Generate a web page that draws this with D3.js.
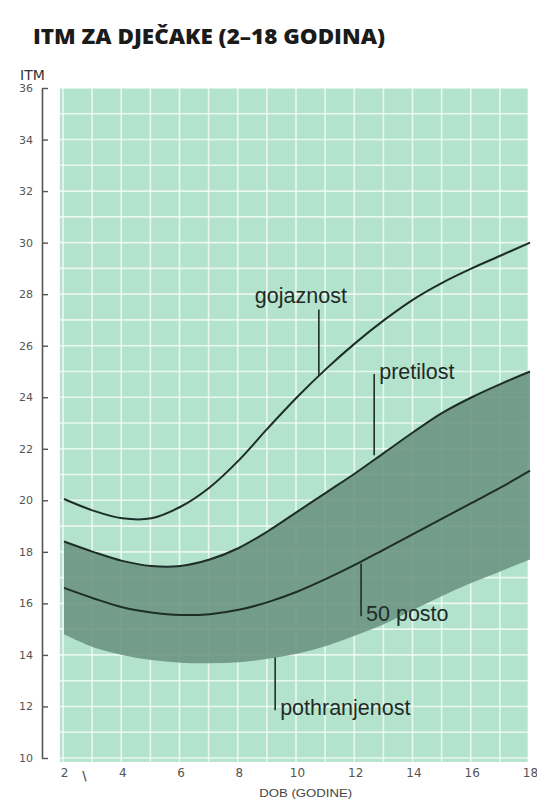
<!DOCTYPE html>
<html>
<head>
<meta charset="utf-8">
<script src="https://cdn.jsdelivr.net/npm/d3@7"></script>
<style>
  html, body { margin: 0; padding: 0; background: #ffffff; }
  svg { display: block; }
</style>
</head>
<body>
<svg id="chart" width="537" height="800"></svg>
<script>
// ---- data ----
const ages = [2, 3, 4, 5, 6, 7, 8, 9, 10, 11, 12, 13, 14, 15, 16, 17, 18];
const gojaznost     = [20.05, 19.6, 19.3, 19.3, 19.75, 20.5, 21.55, 22.8, 24.0, 25.1, 26.1, 27.0, 27.8, 28.45, 29.0, 29.5, 30.0];
const pretilost     = [18.4, 18.0, 17.65, 17.45, 17.45, 17.7, 18.15, 18.8, 19.55, 20.3, 21.05, 21.85, 22.65, 23.4, 24.0, 24.52, 25.0];
const posto50       = [16.6, 16.2, 15.85, 15.65, 15.55, 15.58, 15.75, 16.05, 16.45, 16.95, 17.5, 18.1, 18.7, 19.3, 19.9, 20.5, 21.15];
const pothranjenost = [14.8, 14.3, 14.0, 13.8, 13.7, 13.68, 13.72, 13.85, 14.05, 14.35, 14.75, 15.2, 15.75, 16.3, 16.8, 17.25, 17.7];
const yTicks = [10, 12, 14, 16, 18, 20, 22, 24, 26, 28, 30, 32, 34, 36];
const xTicks = [2, 4, 6, 8, 10, 12, 14, 16, 18];
const title = "ITM ZA DJEČAKE (2–18 GODINA)";
const yTitle = "ITM";
const xTitle = "DOB (GODINE)";
// label anchors: text, age of leader line, value where it meets the curve, value at its free end
const labels = [
  { text: "gojaznost",     age: 10.75, from: 24.85, to: 27.4,  side: "above" },
  { text: "pretilost",     age: 12.65, from: 21.75, to: 24.9,  side: "right" },
  { text: "50 posto",      age: 12.2,  from: 17.55, to: 15.5,  side: "right" },
  { text: "pothranjenost", age: 9.25,  from: 13.9,  to: 11.85, side: "right" }
];

// ---- scales ----
const svg = d3.select("#chart");
const x = d3.scaleLinear().domain([2, 18]).range([64, 530]);
const y = d3.scaleLinear().domain([10, 36]).range([758, 88]);

// ---- grid background ----
const gx0 = x(1.86), gx1 = x(17.92), gy0 = y(36), gy1 = y(9.85);
svg.append("rect")
  .attr("x", gx0).attr("y", gy0)
  .attr("width", gx1 - gx0).attr("height", gy1 - gy0)
  .attr("fill", "#b4e3cd");

// grid lines
const gridG = svg.append("g").attr("stroke", "#ffffff").attr("stroke-opacity", 0.7).attr("stroke-width", 1.6);
d3.range(10, 37).forEach(v => {
  gridG.append("line").attr("x1", gx0).attr("x2", gx1).attr("y1", y(v)).attr("y2", y(v));
});
d3.range(2, 18).forEach(a => {
  gridG.append("line").attr("x1", x(a) - 1).attr("x2", x(a) - 1).attr("y1", gy0).attr("y2", gy1);
});

// band
const pts = ages.map((a, i) => ({ a, lo: pothranjenost[i], hi: pretilost[i] }));
const curve = d3.curveCatmullRom.alpha(0.5);
svg.append("path")
  .datum(pts)
  .attr("d", d3.area().x(d => x(d.a)).y0(d => y(d.lo)).y1(d => y(d.hi)).curve(curve))
  .attr("fill", "#6a9381").attr("fill-opacity", 0.88);

// ---- curves ----
const line = d3.line().x((d, i) => x(ages[i])).y(d => y(d)).curve(curve);
[gojaznost, pretilost, posto50].forEach(s => {
  svg.append("path").datum(s).attr("d", line)
    .attr("fill", "none").attr("stroke", "#1d2e28").attr("stroke-width", 2);
});

// ---- labels with leader lines ----
labels.forEach(l => {
  svg.append("line")
    .attr("x1", x(l.age)).attr("x2", x(l.age))
    .attr("y1", y(l.from)).attr("y2", y(l.to))
    .attr("stroke", "#1d2e28").attr("stroke-width", 1.6);
  const t = svg.append("text")
    .attr("font-family", "'Liberation Sans', Arial, sans-serif")
    .attr("font-size", 21.5)
    .attr("fill", "#1f2b27")
    .text(l.text);
  if (l.side === "above") {
    t.attr("x", x(l.age) - 18).attr("y", y(l.to) - 7).attr("text-anchor", "middle");
  } else {
    t.attr("x", x(l.age) + 5).attr("y", y(l.to) + 5).attr("text-anchor", "start");
  }
});

// ---- y axis ----
const yAxis = d3.axisLeft(y).tickValues(yTicks).tickSizeInner(-6).tickSizeOuter(0).tickPadding(9);
const yg = svg.append("g").attr("transform", "translate(42,0)").call(yAxis);
yg.select(".domain").attr("stroke", "#555").attr("stroke-width", 1.6);
yg.selectAll(".tick line").attr("stroke", "#555").attr("stroke-width", 1.4);
yg.selectAll(".tick text")
  .attr("font-family", "'DejaVu Sans', sans-serif")
  .attr("font-size", 11).attr("fill", "#555");

// ---- x axis (labels only) ----
const xAxis = d3.axisBottom(x).tickValues(xTicks).tickSize(0).tickPadding(0);
const xg = svg.append("g").attr("transform", "translate(0,768)").call(xAxis);
xg.select(".domain").remove();
xg.selectAll(".tick text")
  .attr("font-family", "'DejaVu Sans', sans-serif")
  .attr("font-size", 12).attr("fill", "#555");
// small stray stroke printed next to "2" in the original
svg.append("text")
  .attr("x", x(2.7)).attr("y", 780).attr("text-anchor", "middle")
  .attr("font-family", "'DejaVu Sans', sans-serif")
  .attr("font-weight", 700)
  .attr("font-size", 12).attr("fill", "#555")
  .text("\\");

// ---- titles ----
svg.append("text")
  .attr("x", 33).attr("y", 44)
  .attr("font-family", "'Open Sans', 'DejaVu Sans', sans-serif")
  .attr("font-weight", 800).attr("font-size", 21)
  .attr("fill", "#1b1b1b")
  .attr("textLength", 352).attr("lengthAdjust", "spacingAndGlyphs")
  .text(title);

svg.append("text")
  .attr("x", 20).attr("y", 80)
  .attr("font-family", "'DejaVu Sans', sans-serif")
  .attr("font-size", 14).attr("fill", "#333")
  .text(yTitle);

svg.append("text")
  .attr("x", x(10.3)).attr("y", 797)
  .attr("text-anchor", "middle")
  .attr("font-family", "'Liberation Sans', Arial, sans-serif")
  .attr("font-size", 10.5).attr("fill", "#444")
  .attr("textLength", 93).attr("lengthAdjust", "spacingAndGlyphs")
  .text(xTitle);
</script>
</body>
</html>
